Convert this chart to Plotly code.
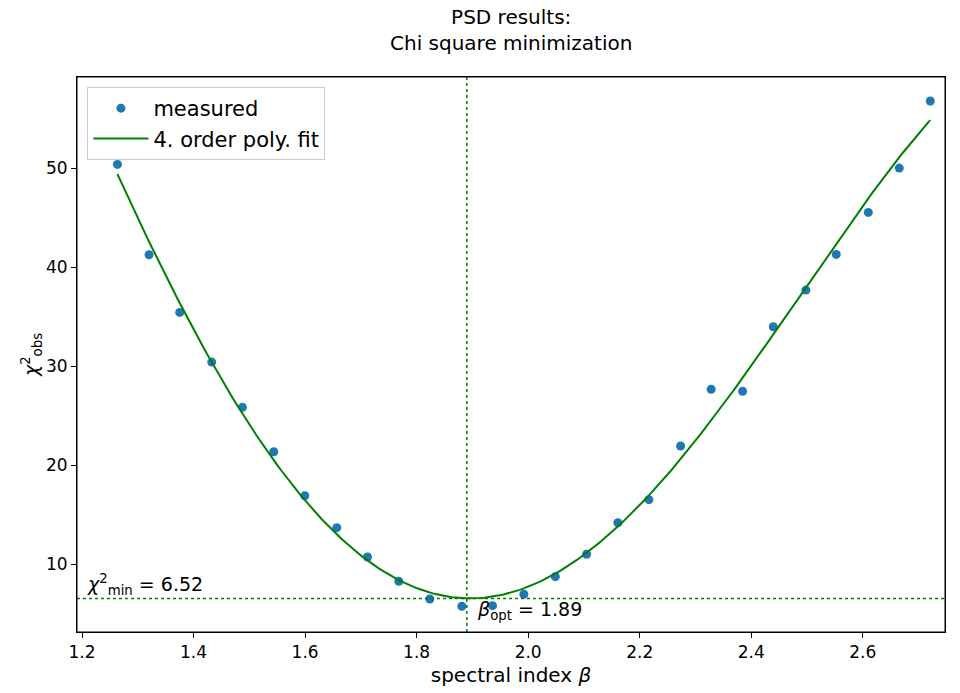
import numpy as np
import plotly.graph_objects as go

beta = [1.2635, 1.3202, 1.3752, 1.4326, 1.4877, 1.5439, 1.5995, 1.6569, 1.7119,
        1.7681, 1.8237, 1.8811, 1.9361, 1.9923, 2.0488, 2.1048, 2.1609, 2.2165,
        2.2734, 2.3282, 2.3846, 2.4395, 2.4981, 2.5525, 2.6099, 2.6655, 2.7211]
chi2 = [50.37, 41.24, 35.42, 30.40, 25.83, 21.34, 16.90, 13.67, 10.71,
        8.25, 6.46, 5.73, 5.79, 6.94, 8.72, 10.98, 14.17, 16.50,
        21.92, 27.65, 27.44, 33.97, 37.67, 41.28, 45.52, 50.00, 56.77]
beta_opt = 1.89
chi2_min = 6.52
x_ticks = [1.2, 1.4, 1.6, 1.8, 2.0, 2.2, 2.4, 2.6]
y_ticks = [10, 20, 30, 40, 50]

coef = np.polyfit(beta, chi2, 4)
xf = np.linspace(min(beta), max(beta), 300)
yf = np.polyval(coef, xf)

FONT = "DejaVu Sans"
fig = go.Figure()
fig.add_trace(go.Scatter(x=beta, y=chi2, mode="markers", name="measured",
                         marker=dict(color="#1f77b4", size=9)))
fig.add_trace(go.Scatter(x=xf, y=yf, mode="lines", name="4. order poly. fit",
                         line=dict(color="green", width=2)))

fig.add_shape(type="line", xref="x", yref="paper", x0=beta_opt, x1=beta_opt, y0=0, y1=1,
              line=dict(color="green", width=1.5, dash="dot"))
fig.add_shape(type="line", xref="paper", yref="y", x0=0, x1=1, y0=chi2_min, y1=chi2_min,
              line=dict(color="green", width=1.5, dash="dot"))
fig.add_shape(type="rect", xref="paper", yref="paper", x0=0, x1=1, y0=0, y1=1,
              line=dict(color="black", width=1), layer="above")

fig.add_annotation(x=1.205, y=chi2_min, xref="x", yref="y", xanchor="left", yanchor="bottom",
                   text="<i>χ</i><sup>2</sup><sub>min</sub> = 6.52", showarrow=False,
                   font=dict(family=FONT, size=19, color="black"), yshift=-2)
fig.add_annotation(x=1.905, y=chi2_min, xref="x", yref="y", xanchor="left", yanchor="top",
                   text="<i>β</i><sub>opt</sub> = 1.89", showarrow=False,
                   font=dict(family=FONT, size=19, color="black"), yshift=2)
fig.add_annotation(x=0.5, y=1, xref="paper", yref="paper", xanchor="center", yanchor="bottom",
                   text="PSD results:<br>Chi square minimization", showarrow=False,
                   font=dict(family=FONT, size=20, color="black"), yshift=20)

fig.update_layout(
    width=952, height=685,
    margin=dict(l=69, r=15, t=69, b=61, autoexpand=False),
    paper_bgcolor="white", plot_bgcolor="white",
    font=dict(family=FONT, color="black"),
    legend=dict(x=0.012, y=0.982, xanchor="left", yanchor="top",
                bgcolor="rgba(255,255,255,0.8)", bordercolor="#cccccc", borderwidth=1,
                font=dict(family=FONT, size=21, color="black"), tracegroupgap=0,
                itemwidth=55),
    showlegend=True,
)
fig.update_xaxes(range=[1.191, 2.7475], tickvals=x_ticks, ticktext=[f"{v:.1f}" for v in x_ticks],
                 showgrid=False, zeroline=False, showline=True, linecolor="black", linewidth=1,
                 mirror=True, ticks="outside", ticklen=5, tickcolor="black", automargin=False,
                 tickfont=dict(family=FONT, size=17, color="black"),
                 title=dict(text="spectral index <i>β</i>", font=dict(family=FONT, size=20, color="black"),
                            standoff=6))
fig.update_yaxes(range=[3.13, 59.2], tickvals=y_ticks, ticktext=[str(v) for v in y_ticks],
                 showgrid=False, zeroline=False, showline=True, linecolor="black", linewidth=1,
                 mirror=True, ticks="outside", ticklen=5, tickcolor="black", automargin=False,
                 tickfont=dict(family=FONT, size=17, color="black"),
                 title=dict(text="<i>χ</i><sup>2</sup><sub>obs</sub>", font=dict(family=FONT, size=19, color="black"),
                            standoff=2))

fig.write_html("out.html")
